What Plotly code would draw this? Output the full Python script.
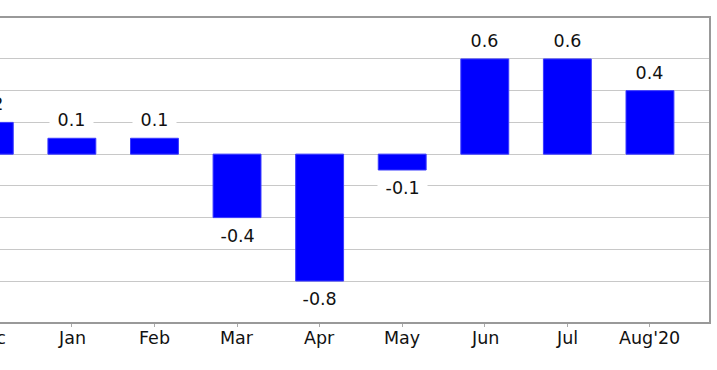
import plotly.graph_objects as go

months = ["Dec", "Jan", "Feb", "Mar", "Apr", "May", "Jun", "Jul", "Aug'20"]
values = [0.2, 0.1, 0.1, -0.4, -0.8, -0.1, 0.6, 0.6, 0.4]
value_labels = [f"{v:.1f}" for v in values]
grid_values = [-0.8, -0.6, -0.4, -0.2, 0.0, 0.2, 0.4, 0.6]

FONT = dict(family="DejaVu Sans", size=17.5, color="#111111")
GRID = "#c8c8c8"
FRAME = "#999999"

# The reference is a crop of a wider chart: the left part (y axis) lies
# outside the visible window, so the figure is wider and shifted left.
HIDDEN_LEFT = 52

fig = go.Figure()
fig.add_trace(go.Bar(
    x=months, y=values,
    width=0.58,
    marker=dict(color="#0000ff", line=dict(color="#3a3aff", width=1)),
    hoverinfo="skip",
))

annotations = []
for m, v, lab in zip(months, values, value_labels):
    annotations.append(dict(
        x=m, y=v, xref="x", yref="y",
        text="\u00a0" + lab + "\u00a0",
        showarrow=False, font=FONT,
        bgcolor="white", borderpad=2,
        xanchor="center", yanchor="middle",
        yshift=18 if v >= 0 else -18,
    ))
    annotations.append(dict(
        x=m, y=0, xref="x", yref="paper",
        text=m, showarrow=False, font=FONT,
        xanchor="center", yanchor="top", yshift=-4,
    ))

fig.update_layout(
    width=717 + HIDDEN_LEFT, height=370,
    margin=dict(l=0, r=8, t=18, b=48),
    paper_bgcolor="white", plot_bgcolor="white",
    showlegend=False,
    annotations=annotations,
    xaxis=dict(
        type="category", categoryorder="array", categoryarray=months,
        range=[-0.5, 8.715],
        showgrid=False, showticklabels=False,
        ticks="outside", ticklen=3, tickcolor="#aaaaaa", tickwidth=1,
        showline=True, linecolor=FRAME, linewidth=1.5, mirror=True,
        zeroline=False, fixedrange=True,
    ),
    yaxis=dict(
        range=[-1.058, 0.858],
        tickmode="array", tickvals=grid_values,
        showticklabels=False, ticks="",
        showgrid=True, gridcolor=GRID, gridwidth=1,
        zeroline=True, zerolinecolor=GRID, zerolinewidth=1,
        showline=True, linecolor=FRAME, linewidth=1.5, mirror=True,
        fixedrange=True,
    ),
)

fig.write_html(
    "out.html",
    config={"displayModeBar": False},
    post_script=(
        "document.body.style.margin='0 0 0 -%dpx';"
        "document.body.style.overflow='hidden';" % HIDDEN_LEFT
    ),
)
